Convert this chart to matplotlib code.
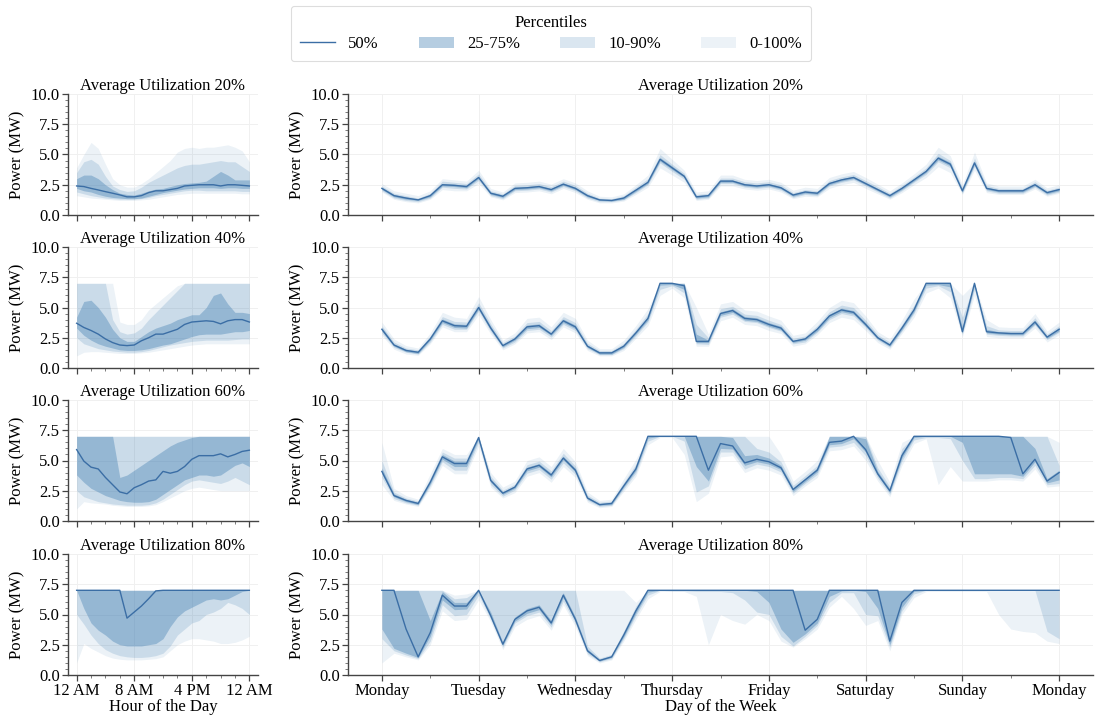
import matplotlib
matplotlib.use("Agg")
import matplotlib.pyplot as plt
from matplotlib.lines import Line2D
from matplotlib.patches import Patch
from matplotlib.ticker import MultipleLocator, AutoMinorLocator, FormatStrFormatter

plt.rcParams['font.family'] = 'serif'
plt.rcParams['font.serif'] = ['Liberation Serif', 'DejaVu Serif']
plt.rcParams['font.size'] = 12

# ---------------- data ----------------
utilizations = ["20%", "40%", "60%", "80%"]
day_hours = list(range(25))
week_hours = list(range(0, 169, 3))
day_tick_labels = ["12 AM", "8 AM", "4 PM", "12 AM"]
week_tick_labels = ["Monday", "Tuesday", "Wednesday", "Thursday", "Friday", "Saturday", "Sunday", "Monday"]

# ---- hour-of-day panels ----
d20_p50 = [2.4,2.35,2.2,2.07,1.93,1.8,1.66,1.5,1.5,1.6,1.85,2.0,2.0,2.1,2.2,2.4,2.45,2.5,2.5,2.5,2.4,2.5,2.5,2.45,2.4]
d20_p25 = [2.2,2.0,1.9,1.7,1.55,1.45,1.4,1.35,1.35,1.4,1.55,1.7,1.85,1.95,2.05,2.15,2.2,2.25,2.25,2.25,2.2,2.25,2.25,2.2,2.2]
d20_p75 = [3.0,3.3,3.3,3.0,2.5,2.1,1.8,1.7,1.65,1.8,2.0,2.15,2.2,2.35,2.5,2.6,2.65,2.7,2.8,3.2,3.6,3.3,2.9,2.9,2.9]
d20_p10 = [1.9,1.75,1.6,1.5,1.4,1.35,1.3,1.3,1.3,1.35,1.45,1.6,1.7,1.8,1.9,2.0,2.05,2.05,2.0,2.0,2.0,2.0,2.0,1.95,1.95]
d20_p90 = [3.5,4.4,4.6,4.2,3.2,2.4,2.1,1.95,2.0,2.3,2.7,3.0,3.3,3.6,3.9,4.1,4.2,4.2,4.3,4.4,4.5,4.4,4.4,4.0,3.6]
d20_p0 = [1.6,1.5,1.4,1.35,1.3,1.25,1.2,1.2,1.2,1.25,1.3,1.4,1.5,1.6,1.7,1.75,1.8,1.8,1.8,1.8,1.8,1.8,1.8,1.75,1.75]
d20_p100 = [3.9,5.0,6.0,5.5,4.2,3.0,2.5,2.3,2.3,2.6,3.0,3.5,4.0,4.5,5.2,5.5,5.6,5.5,5.6,5.6,5.7,5.8,5.6,5.3,4.4]

d40_p50 = [3.7,3.35,3.1,2.8,2.4,2.1,1.9,1.85,1.9,2.25,2.5,2.8,2.8,3.0,3.2,3.6,3.8,3.85,3.9,3.85,3.65,3.9,4.0,4.0,3.8]
d40_p25 = [3.3,2.7,2.3,2.0,1.8,1.65,1.5,1.45,1.45,1.5,1.6,1.75,1.9,2.0,2.2,2.4,2.6,2.75,2.8,2.8,2.8,2.9,3.0,3.0,3.1]
d40_p75 = [4.2,5.5,5.6,5.0,4.2,3.2,2.5,2.2,2.2,2.6,3.0,3.3,3.5,3.7,4.0,4.2,4.4,4.4,5.0,6.0,6.2,5.3,4.6,4.6,4.5]
d40_p10 = [2.5,2.0,1.8,1.6,1.5,1.4,1.35,1.3,1.3,1.35,1.45,1.6,1.75,1.9,2.0,2.1,2.2,2.25,2.3,2.3,2.3,2.3,2.35,2.4,2.4]
d40_p90 = [7.0,7.0,7.0,7.0,7.0,4.0,3.0,2.8,2.9,3.3,4.0,4.6,5.2,5.8,6.4,7.0,7.0,7.0,7.0,7.0,7.0,7.0,7.0,7.0,7.0]
d40_p0 = [1.0,1.3,1.35,1.35,1.3,1.25,1.2,1.2,1.2,1.25,1.3,1.4,1.5,1.6,1.7,1.8,1.9,1.95,2.0,2.0,2.0,2.0,2.0,2.0,2.0]
d40_p100 = [7.0,7.0,7.0,7.0,7.0,7.0,3.8,3.6,3.6,4.0,4.8,5.3,5.8,6.3,6.8,7.0,7.0,7.0,7.0,7.0,7.0,7.0,7.0,7.0,7.0]

d60_p50 = [5.9,4.95,4.45,4.3,3.6,3.0,2.4,2.25,2.75,3.0,3.3,3.4,4.1,3.95,4.1,4.5,5.1,5.4,5.4,5.4,5.55,5.3,5.5,5.75,5.85]
d60_p25 = [3.8,3.2,2.7,2.4,2.1,1.9,1.7,1.6,1.55,1.55,1.6,1.8,2.2,2.6,3.0,3.4,3.6,3.8,3.8,3.7,3.8,4.2,4.6,4.8,4.5]
d60_p75 = [7.0,7.0,7.0,7.0,7.0,7.0,3.6,3.8,4.2,4.6,5.0,5.4,5.8,6.2,6.5,6.7,6.9,7.0,7.0,7.0,7.0,7.0,7.0,7.0,7.0]
d60_p10 = [2.5,2.0,1.8,1.6,1.5,1.4,1.35,1.3,1.3,1.3,1.35,1.5,1.8,2.2,2.6,3.0,3.3,3.4,3.3,3.2,3.1,3.3,3.6,3.3,3.0]
d60_p90 = [7.0,7.0,7.0,7.0,7.0,7.0,7.0,7.0,7.0,7.0,7.0,7.0,7.0,7.0,7.0,7.0,7.0,7.0,7.0,7.0,7.0,7.0,7.0,7.0,7.0]
d60_p0 = [1.0,1.6,1.5,1.45,1.4,1.3,1.25,1.2,1.2,1.2,1.25,1.35,1.6,1.9,2.2,2.5,2.7,2.8,2.7,2.6,2.5,2.5,2.5,2.5,2.5]
d60_p100 = [7.0,7.0,7.0,7.0,7.0,7.0,7.0,7.0,7.0,7.0,7.0,7.0,7.0,7.0,7.0,7.0,7.0,7.0,7.0,7.0,7.0,7.0,7.0,7.0,7.0]

d80_p50 = [7.0,7.0,7.0,7.0,7.0,7.0,7.0,4.7,5.2,5.7,6.3,6.95,7.0,7.0,7.0,7.0,7.0,7.0,7.0,7.0,7.0,7.0,7.0,7.0,7.0]
d80_p25 = [7.0,5.5,4.3,3.7,3.3,2.8,2.5,2.4,2.4,2.4,2.5,2.6,3.0,4.0,4.8,5.3,5.6,5.9,6.2,6.3,6.2,6.3,6.6,6.9,7.0]
d80_p75 = [7.0,7.0,7.0,7.0,7.0,7.0,7.0,7.0,7.0,7.0,7.0,7.0,7.0,7.0,7.0,7.0,7.0,7.0,7.0,7.0,7.0,7.0,7.0,7.0,7.0]
d80_p10 = [5.0,4.2,3.3,2.6,2.1,1.8,1.6,1.5,1.45,1.45,1.5,1.6,1.8,2.4,3.3,3.8,4.3,4.5,5.0,5.2,5.5,6.0,5.8,5.5,5.0]
d80_p90 = [7.0,7.0,7.0,7.0,7.0,7.0,7.0,7.0,7.0,7.0,7.0,7.0,7.0,7.0,7.0,7.0,7.0,7.0,7.0,7.0,7.0,7.0,7.0,7.0,7.0]
d80_p0 = [1.0,2.6,2.2,1.9,1.6,1.4,1.3,1.25,1.25,1.25,1.3,1.35,1.5,2.0,2.5,2.8,3.0,3.0,2.9,2.8,2.6,2.6,2.7,2.9,3.2]
d80_p100 = [7.0,7.0,7.0,7.0,7.0,7.0,7.0,7.0,7.0,7.0,7.0,7.0,7.0,7.0,7.0,7.0,7.0,7.0,7.0,7.0,7.0,7.0,7.0,7.0,7.0]

# ---- day-of-week panels (every 3 hours, Monday 0h .. next Monday 0h) ----
w20_p50 = [2.2,1.6,1.4,1.25,1.6,2.5,2.45,2.35,3.1,1.8,1.55,2.2,2.25,2.35,2.1,2.55,2.2,1.6,1.25,1.2,1.4,2.05,2.7,4.6,3.9,3.2,1.5,1.6,2.8,2.8,2.5,2.4,2.5,2.25,1.65,1.9,1.8,2.6,2.9,3.1,2.6,2.1,1.6,2.2,2.9,3.6,4.7,4.2,2.0,4.3,2.2,2.0,2.0,2.0,2.5,1.85,2.1]
w20_p0 = [1.9,1.3,1.1,1.0,1.3,2.1,2.0,2.0,2.6,1.5,1.25,1.85,1.9,2.0,1.75,2.2,1.85,1.3,1.0,1.0,1.15,1.7,2.3,3.9,3.3,2.7,1.2,1.3,2.4,2.4,2.15,2.05,2.15,1.9,1.35,1.55,1.5,2.2,2.5,2.7,2.2,1.75,1.3,1.85,2.5,3.1,4.0,3.5,1.7,3.7,1.85,1.7,1.7,1.7,2.15,1.55,1.8]
w20_p10 = [2.0,1.4,1.2,1.1,1.4,2.3,2.2,2.15,2.85,1.6,1.35,2.0,2.05,2.15,1.9,2.35,2.0,1.4,1.1,1.1,1.25,1.85,2.5,4.3,3.6,2.95,1.3,1.4,2.6,2.6,2.3,2.2,2.3,2.05,1.45,1.7,1.6,2.4,2.7,2.9,2.4,1.9,1.4,2.0,2.7,3.35,4.4,3.9,1.8,4.0,2.0,1.8,1.8,1.8,2.3,1.65,1.9]
w20_p25 = [2.1,1.5,1.3,1.2,1.5,2.4,2.35,2.25,3.0,1.7,1.45,2.1,2.15,2.25,2.0,2.45,2.1,1.5,1.2,1.15,1.3,1.95,2.6,4.45,3.75,3.1,1.4,1.5,2.7,2.7,2.4,2.3,2.4,2.15,1.55,1.8,1.7,2.5,2.8,3.0,2.5,2.0,1.5,2.1,2.8,3.5,4.55,4.05,1.9,4.15,2.1,1.9,1.9,1.9,2.4,1.75,2.0]
w20_p75 = [2.3,1.7,1.5,1.3,1.7,2.6,2.55,2.45,3.2,1.9,1.65,2.3,2.35,2.45,2.2,2.65,2.3,1.7,1.3,1.25,1.5,2.15,2.8,4.75,4.05,3.3,1.6,1.7,2.9,2.9,2.6,2.5,2.6,2.35,1.75,2.0,1.9,2.7,3.0,3.2,2.7,2.2,1.7,2.3,3.0,3.7,4.85,4.35,2.1,4.45,2.3,2.1,2.1,2.1,2.6,1.95,2.2]
w20_p90 = [2.4,1.8,1.6,1.4,1.8,2.8,2.7,2.6,3.4,2.0,1.75,2.45,2.5,2.6,2.35,2.8,2.45,1.8,1.4,1.35,1.6,2.3,3.0,5.0,4.2,3.45,1.7,1.8,3.05,3.05,2.75,2.65,2.75,2.5,1.85,2.1,2.0,2.85,3.15,3.35,2.85,2.35,1.8,2.45,3.15,3.9,5.1,4.5,2.25,4.7,2.45,2.2,2.2,2.2,2.75,2.05,2.3]
w20_p100 = [2.6,2.0,1.8,1.6,2.0,3.0,2.9,2.8,3.7,2.2,1.9,2.65,2.7,2.8,2.55,3.0,2.65,2.0,1.55,1.5,1.75,2.5,3.3,5.5,4.6,3.7,1.9,2.0,3.3,3.3,2.95,2.85,2.95,2.7,2.05,2.3,2.2,3.1,3.4,3.6,3.1,2.55,2.0,2.65,3.4,4.2,5.6,4.9,2.5,5.2,2.65,2.4,2.4,2.4,2.95,2.25,2.5]

w40_p50 = [3.2,1.9,1.45,1.3,2.4,3.9,3.5,3.45,5.0,3.3,1.85,2.4,3.4,3.5,2.8,3.9,3.4,1.8,1.25,1.25,1.8,2.9,4.1,7.0,7.0,6.8,2.2,2.2,4.5,4.75,4.1,4.0,3.6,3.3,2.2,2.4,3.2,4.3,4.8,4.6,3.6,2.5,1.9,3.3,4.8,7.0,7.0,7.0,3.0,7.0,3.0,2.9,2.85,2.85,3.8,2.55,3.2]
w40_p0 = [2.7,1.55,1.15,1.05,2.0,3.4,3.0,3.0,4.4,2.8,1.5,2.0,2.9,3.0,2.35,3.4,2.9,1.45,1.0,1.0,1.45,2.45,3.5,6.0,6.6,5.8,1.8,1.8,3.9,4.2,3.6,3.5,3.1,2.85,1.8,2.0,2.75,3.75,4.2,4.0,3.1,2.1,1.55,2.85,4.2,6.2,6.6,5.8,2.6,6.0,2.6,2.5,2.5,2.5,3.3,2.15,2.75]
w40_p10 = [2.9,1.7,1.3,1.15,2.15,3.6,3.2,3.2,4.7,3.0,1.65,2.15,3.1,3.2,2.55,3.6,3.1,1.6,1.1,1.1,1.6,2.65,3.8,6.5,6.8,6.2,2.0,1.95,4.2,4.45,3.85,3.75,3.35,3.05,2.0,2.15,2.95,4.0,4.5,4.3,3.35,2.3,1.7,3.05,4.5,6.6,6.8,6.3,2.8,6.5,2.8,2.7,2.65,2.65,3.55,2.35,2.95]
w40_p25 = [3.05,1.8,1.35,1.2,2.3,3.75,3.35,3.3,4.85,3.15,1.75,2.3,3.25,3.35,2.7,3.75,3.25,1.7,1.15,1.15,1.7,2.8,3.95,6.85,6.9,6.5,2.1,2.1,4.35,4.6,3.95,3.85,3.45,3.15,2.1,2.3,3.05,4.15,4.65,4.45,3.45,2.4,1.8,3.15,4.65,6.85,6.9,6.7,2.9,6.8,2.9,2.8,2.75,2.75,3.65,2.45,3.05]
w40_p75 = [3.35,2.0,1.55,1.4,2.5,4.05,3.65,3.6,5.15,3.45,1.95,2.5,3.55,3.65,2.9,4.05,3.55,1.9,1.35,1.35,1.9,3.0,4.25,7.0,7.0,7.0,2.8,2.3,4.65,4.9,4.25,4.15,3.75,3.45,2.3,2.5,3.35,4.45,4.95,4.75,3.75,2.6,2.0,3.45,4.95,7.0,7.0,7.0,3.4,7.0,3.2,3.0,2.95,2.95,3.95,2.65,3.35]
w40_p90 = [3.5,2.15,1.65,1.5,2.65,4.25,3.85,3.8,5.4,3.65,2.1,2.65,3.75,3.85,3.1,4.25,3.75,2.05,1.45,1.45,2.05,3.2,4.5,7.0,7.0,7.0,3.6,2.5,4.9,5.1,4.45,4.35,3.95,3.6,2.45,2.65,3.5,4.65,5.2,5.0,3.95,2.75,2.15,3.6,5.2,7.0,7.0,7.0,4.2,7.0,3.5,3.15,3.1,3.1,4.15,2.8,3.5]
w40_p100 = [3.8,2.4,1.85,1.65,2.9,4.6,4.2,4.1,5.9,4.0,2.3,2.9,4.1,4.2,3.4,4.6,4.1,2.3,1.6,1.6,2.3,3.5,4.9,7.0,7.0,7.0,5.0,2.8,5.3,5.5,4.8,4.7,4.3,3.95,2.7,2.9,3.85,5.0,5.6,5.4,4.3,3.0,2.4,3.95,5.7,7.0,7.0,7.0,6.0,7.0,4.0,3.4,3.35,3.35,4.5,3.05,3.8]

w60_p50 = [4.1,2.1,1.7,1.45,3.2,5.3,4.75,4.75,6.9,3.35,2.3,2.8,4.3,4.6,3.8,5.2,4.2,1.9,1.35,1.45,2.9,4.3,7.0,7.0,7.0,7.0,7.0,4.2,6.4,6.2,4.8,5.1,4.9,4.4,2.6,3.4,4.2,6.5,6.6,7.0,5.9,3.9,2.5,5.4,7.0,7.0,7.0,7.0,7.0,7.0,7.0,7.0,6.9,3.9,5.1,3.3,4.0]
w60_p0 = [3.0,1.7,1.4,1.2,2.7,4.6,3.9,3.9,6.2,2.8,1.9,2.35,3.7,4.0,3.2,4.5,3.6,1.55,1.1,1.2,2.45,3.7,6.3,6.9,6.9,5.5,1.6,2.3,5.3,5.4,4.0,4.4,4.2,3.8,2.1,2.9,3.6,5.8,5.9,6.2,5.0,3.3,2.0,4.6,6.4,6.8,3.0,4.5,3.3,3.3,3.3,3.4,3.4,3.3,4.3,2.8,2.9]
w60_p10 = [3.6,1.85,1.5,1.3,2.9,4.9,4.2,4.2,6.5,3.0,2.05,2.55,3.95,4.25,3.45,4.8,3.85,1.7,1.2,1.3,2.65,3.95,6.6,7.0,7.0,6.6,2.4,2.9,5.7,5.7,4.3,4.7,4.5,4.05,2.3,3.1,3.85,6.1,6.2,6.5,5.4,3.55,2.2,4.95,6.7,6.9,6.9,6.8,5.0,3.5,3.5,3.6,3.6,3.5,4.6,3.0,3.1]
w60_p25 = [3.9,2.0,1.6,1.35,3.05,5.1,4.5,4.5,6.75,3.2,2.2,2.7,4.15,4.45,3.65,5.05,4.05,1.8,1.3,1.35,2.8,4.15,6.85,7.0,7.0,7.0,4.5,3.3,6.0,5.95,4.6,4.9,4.7,4.25,2.45,3.25,4.05,6.3,6.4,6.8,5.7,3.75,2.35,5.2,6.9,7.0,7.0,7.0,6.5,3.9,3.9,3.9,3.9,3.7,4.9,3.15,3.4]
w60_p75 = [4.4,2.25,1.8,1.55,3.35,5.5,4.95,4.95,7.0,3.5,2.4,2.9,4.45,4.75,3.95,5.35,4.35,2.0,1.45,1.55,3.0,4.45,7.0,7.0,7.0,7.0,7.0,7.0,7.0,6.9,5.4,5.5,5.2,4.6,2.75,3.55,4.4,7.0,7.0,7.0,6.8,4.1,2.65,5.7,7.0,7.0,7.0,7.0,7.0,7.0,7.0,7.0,7.0,7.0,6.0,3.5,4.2]
w60_p90 = [5.0,2.4,1.9,1.65,3.55,5.7,5.2,5.2,7.0,3.7,2.55,3.05,4.65,4.95,4.15,5.6,4.55,2.15,1.55,1.65,3.2,4.7,7.0,7.0,7.0,7.0,7.0,7.0,7.0,7.0,7.0,6.0,5.7,4.9,2.95,3.75,4.6,7.0,7.0,7.0,7.0,4.4,2.85,6.0,7.0,7.0,7.0,7.0,7.0,7.0,7.0,7.0,7.0,7.0,7.0,7.0,4.6]
w60_p100 = [6.5,2.7,2.1,1.8,3.9,6.0,5.5,5.5,7.0,4.0,2.8,3.3,5.0,5.3,4.5,6.0,4.9,2.4,1.7,1.8,3.5,5.1,7.0,7.0,7.0,7.0,7.0,7.0,7.0,7.0,7.0,7.0,7.0,5.5,3.3,4.1,5.0,7.0,7.0,7.0,7.0,5.0,3.2,6.5,7.0,7.0,7.0,7.0,7.0,7.0,7.0,7.0,7.0,7.0,7.0,7.0,6.5]

w80_p50 = [7.0,7.0,3.8,1.5,3.5,6.6,5.7,5.7,7.0,4.9,2.55,4.6,5.3,5.6,4.3,6.6,4.6,2.0,1.2,1.5,3.3,5.3,7.0,7.0,7.0,7.0,7.0,7.0,7.0,7.0,7.0,7.0,7.0,7.0,7.0,3.7,4.6,7.0,7.0,7.0,7.0,7.0,2.8,6.0,7.0,7.0,7.0,7.0,7.0,7.0,7.0,7.0,7.0,7.0,7.0,7.0,7.0]
w80_p0 = [1.0,1.8,1.5,1.25,2.5,5.3,4.5,4.6,6.2,4.4,2.1,4.0,4.6,4.9,3.7,5.8,4.0,1.6,1.0,1.25,2.8,4.6,6.3,6.9,6.9,6.9,6.5,2.5,5.0,4.5,4.2,5.0,4.5,2.8,2.3,3.0,3.8,5.6,6.5,5.5,4.1,4.5,2.0,5.0,6.4,6.9,6.9,6.9,6.9,6.9,6.9,5.0,3.8,3.6,3.5,2.8,2.6]
w80_p10 = [3.0,2.0,1.65,1.35,2.8,5.8,4.9,5.0,6.6,4.6,2.3,4.3,4.9,5.2,3.95,6.1,4.25,1.75,1.1,1.35,3.0,4.9,6.6,7.0,6.95,6.95,6.9,6.9,6.9,6.8,6.2,5.2,5.0,3.2,2.4,3.2,4.1,6.0,6.8,6.8,5.0,4.9,2.3,5.3,6.7,7.0,7.0,7.0,7.0,7.0,7.0,7.0,7.0,7.0,7.0,3.6,3.0]
w80_p25 = [3.8,2.2,1.8,1.45,3.2,6.2,5.4,5.45,6.9,4.75,2.45,4.45,5.1,5.4,4.15,6.4,4.45,1.9,1.15,1.45,3.15,5.1,6.85,7.0,7.0,7.0,7.0,7.0,7.0,7.0,7.0,6.9,6.0,3.8,2.7,3.4,4.3,6.5,6.95,7.0,6.9,5.5,2.5,5.6,6.9,7.0,7.0,7.0,7.0,7.0,7.0,7.0,7.0,7.0,7.0,7.0,7.0]
w80_p75 = [7.0,7.0,7.0,7.0,4.5,6.9,6.0,6.0,7.0,5.2,2.7,4.8,5.5,5.8,4.5,6.8,4.8,2.15,1.3,1.6,3.45,5.5,7.0,7.0,7.0,7.0,7.0,7.0,7.0,7.0,7.0,7.0,7.0,7.0,7.0,7.0,7.0,7.0,7.0,7.0,7.0,7.0,7.0,7.0,7.0,7.0,7.0,7.0,7.0,7.0,7.0,7.0,7.0,7.0,7.0,7.0,7.0]
w80_p90 = [7.0,7.0,7.0,7.0,7.0,7.0,6.3,6.4,7.0,7.0,7.0,7.0,7.0,7.0,7.0,7.0,7.0,2.4,1.4,1.7,3.65,5.7,7.0,7.0,7.0,7.0,7.0,7.0,7.0,7.0,7.0,7.0,7.0,7.0,7.0,7.0,7.0,7.0,7.0,7.0,7.0,7.0,7.0,7.0,7.0,7.0,7.0,7.0,7.0,7.0,7.0,7.0,7.0,7.0,7.0,7.0,7.0]
w80_p100 = [7.0,7.0,7.0,7.0,7.0,7.0,6.6,6.7,7.0,7.0,7.0,7.0,7.0,7.0,7.0,7.0,7.0,7.0,7.0,7.0,7.0,6.0,7.0,7.0,7.0,7.0,7.0,7.0,7.0,7.0,7.0,7.0,7.0,7.0,7.0,7.0,7.0,7.0,7.0,7.0,7.0,7.0,7.0,7.0,7.0,7.0,7.0,7.0,7.0,7.0,7.0,7.0,7.0,7.0,7.0,7.0,7.0]

day_data = [
    (d20_p0, d20_p10, d20_p25, d20_p50, d20_p75, d20_p90, d20_p100),
    (d40_p0, d40_p10, d40_p25, d40_p50, d40_p75, d40_p90, d40_p100),
    (d60_p0, d60_p10, d60_p25, d60_p50, d60_p75, d60_p90, d60_p100),
    (d80_p0, d80_p10, d80_p25, d80_p50, d80_p75, d80_p90, d80_p100),
]
week_data = [
    (w20_p0, w20_p10, w20_p25, w20_p50, w20_p75, w20_p90, w20_p100),
    (w40_p0, w40_p10, w40_p25, w40_p50, w40_p75, w40_p90, w40_p100),
    (w60_p0, w60_p10, w60_p25, w60_p50, w60_p75, w60_p90, w60_p100),
    (w80_p0, w80_p10, w80_p25, w80_p50, w80_p75, w80_p90, w80_p100),
]

# ---------------- style ----------------
FILL = '#4682b4'
LINE = '#3b6ea5'
A100, A90, A75 = 0.10, 0.20, 0.40
SPINE = '#444444'

fig = plt.figure(figsize=(11.03, 7.15), dpi=100)

W, H = 1103.0, 715.0
bottoms_px = [215, 368, 521, 675]
ax_h = 121 / H


def style_axis(ax):
    ax.set_ylim(0, 10)
    ax.yaxis.set_major_locator(MultipleLocator(2.5))
    ax.yaxis.set_minor_locator(AutoMinorLocator(5))
    ax.yaxis.set_major_formatter(FormatStrFormatter('%.1f'))
    for s in ['top', 'right']:
        ax.spines[s].set_visible(False)
    for s in ['left', 'bottom']:
        ax.spines[s].set_color(SPINE)
        ax.spines[s].set_linewidth(1.0)
    ax.grid(True, which='major', color='#f0f0f0', linewidth=0.7)
    ax.set_axisbelow(True)
    ax.tick_params(which='major', length=4, width=0.9, color=SPINE, labelsize=12, pad=2)
    ax.tick_params(which='minor', length=2, width=0.6, color='#666666')
    ax.set_ylabel('Power (MW)', fontsize=12, labelpad=4)


def draw(ax, x, band):
    p0, p10, p25, p50, p75, p90, p100 = band
    ax.fill_between(x, p0, p100, color=FILL, alpha=A100, linewidth=0)
    ax.fill_between(x, p10, p90, color=FILL, alpha=A90, linewidth=0)
    ax.fill_between(x, p25, p75, color=FILL, alpha=A75, linewidth=0)
    ax.plot(x, p50, color=LINE, linewidth=1.0)


for i, util in enumerate(utilizations):
    b = 1 - bottoms_px[i] / H
    axl = fig.add_axes([68 / W, b, 190 / W, ax_h])
    axr = fig.add_axes([348 / W, b, 745 / W, ax_h])

    draw(axl, day_hours, day_data[i])
    draw(axr, week_hours, week_data[i])

    for ax in (axl, axr):
        style_axis(ax)
        ax.set_title(f'Average Utilization {util}', fontsize=12, pad=3)

    axl.set_xlim(-1.2, 25.2)
    axl.set_xticks([0, 8, 16, 24])
    axl.xaxis.set_minor_locator(MultipleLocator(2))
    axr.set_xlim(-8.4, 176.4)
    axr.set_xticks(list(range(0, 169, 24)))
    axr.xaxis.set_minor_locator(MultipleLocator(12))

    if i == 3:
        axl.set_xticklabels(day_tick_labels)
        axr.set_xticklabels(week_tick_labels)
        axl.set_xlabel('Hour of the Day', fontsize=12, labelpad=0)
        axr.set_xlabel('Day of the Week', fontsize=12, labelpad=0)
    else:
        axl.set_xticklabels([])
        axr.set_xticklabels([])

handles = [
    Line2D([0], [0], color=LINE, linewidth=1.0),
    Patch(facecolor=FILL, alpha=A75, linewidth=0),
    Patch(facecolor=FILL, alpha=A90, linewidth=0),
    Patch(facecolor=FILL, alpha=A100, linewidth=0),
]
labels = ['50%', '25-75%', '10-90%', '0-100%']
leg = fig.legend(handles, labels, loc='upper center', bbox_to_anchor=(551 / W, 1 - 6 / H),
                 borderaxespad=0.0,
                 ncol=4, title='Percentiles', fontsize=12, title_fontsize=12,
                 frameon=True, fancybox=True, edgecolor='#dddddd', framealpha=1.0,
                 handlelength=2.1, handletextpad=0.8, columnspacing=2.4,
                 borderpad=0.55, labelspacing=0.3)
leg.get_frame().set_linewidth(0.8)

fig.savefig('out.png', dpi=100)
